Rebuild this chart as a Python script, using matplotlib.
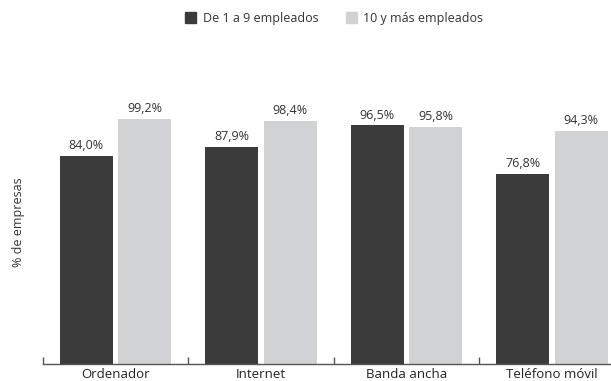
import numpy as np
import matplotlib
matplotlib.use("Agg")
import matplotlib.pyplot as plt
from matplotlib.patches import Patch

plt.rcParams['font.family'] = ['Open Sans', 'DejaVu Sans']

# datos
categorias = ["Ordenador", "Internet", "Banda ancha", "Teléfono móvil"]
series = ["De 1 a 9 empleados", "10 y más empleados"]
pequenas = [84.0, 87.9, 96.5, 76.8]
grandes = [99.2, 98.4, 95.8, 94.3]
colores = ["#3b3b3b", "#d1d2d4"]

fig = plt.figure(figsize=(6.11, 3.81), dpi=100)
ax = fig.add_axes([0.0699, 0.0446, 0.9301, 0.798])

x = np.arange(len(categorias))
ancho = 0.364
b1 = ax.bar(x - 0.2, pequenas, ancho, color=colores[0])
b2 = ax.bar(x + 0.2, grandes, ancho, color=colores[1])

for barras in (b1, b2):
    for b in barras:
        v = b.get_height()
        ax.text(b.get_x() + b.get_width() / 2, v + 1.6, f"{v:.1f}%".replace('.', ','),
                ha='center', va='bottom', fontsize=9, color='#333333')

ax.set_xlim(-0.5, 3.406)
ax.set_ylim(0, 123)

for s in ['top', 'right', 'left']:
    ax.spines[s].set_visible(False)
ax.spines['bottom'].set_color('#555555')
ax.spines['bottom'].set_linewidth(1)
ax.set_yticks([])

ax.set_xticks(x)
ax.set_xticklabels(categorias, fontsize=9.5, color='#222222')
ax.tick_params(axis='x', which='major', length=0, pad=3)
ax.set_xticks(np.arange(len(categorias)) - 0.5, minor=True)
ax.tick_params(axis='x', which='minor', direction='in', length=5, width=1, color='#555555')

fig.text(0.031, 0.418, "% de empresas", rotation=90, ha='center', va='center',
         fontsize=9, color='#333333')

handles = [Patch(color=colores[0]), Patch(color=colores[1])]
fig.legend(handles, series, loc='center', bbox_to_anchor=(0.547, 0.952), ncol=2,
           frameon=False, fontsize=9, handlelength=0.9, handleheight=0.9,
           handletextpad=0.5, columnspacing=2.2, labelcolor='#333333')

fig.savefig("out.png", dpi=100)
